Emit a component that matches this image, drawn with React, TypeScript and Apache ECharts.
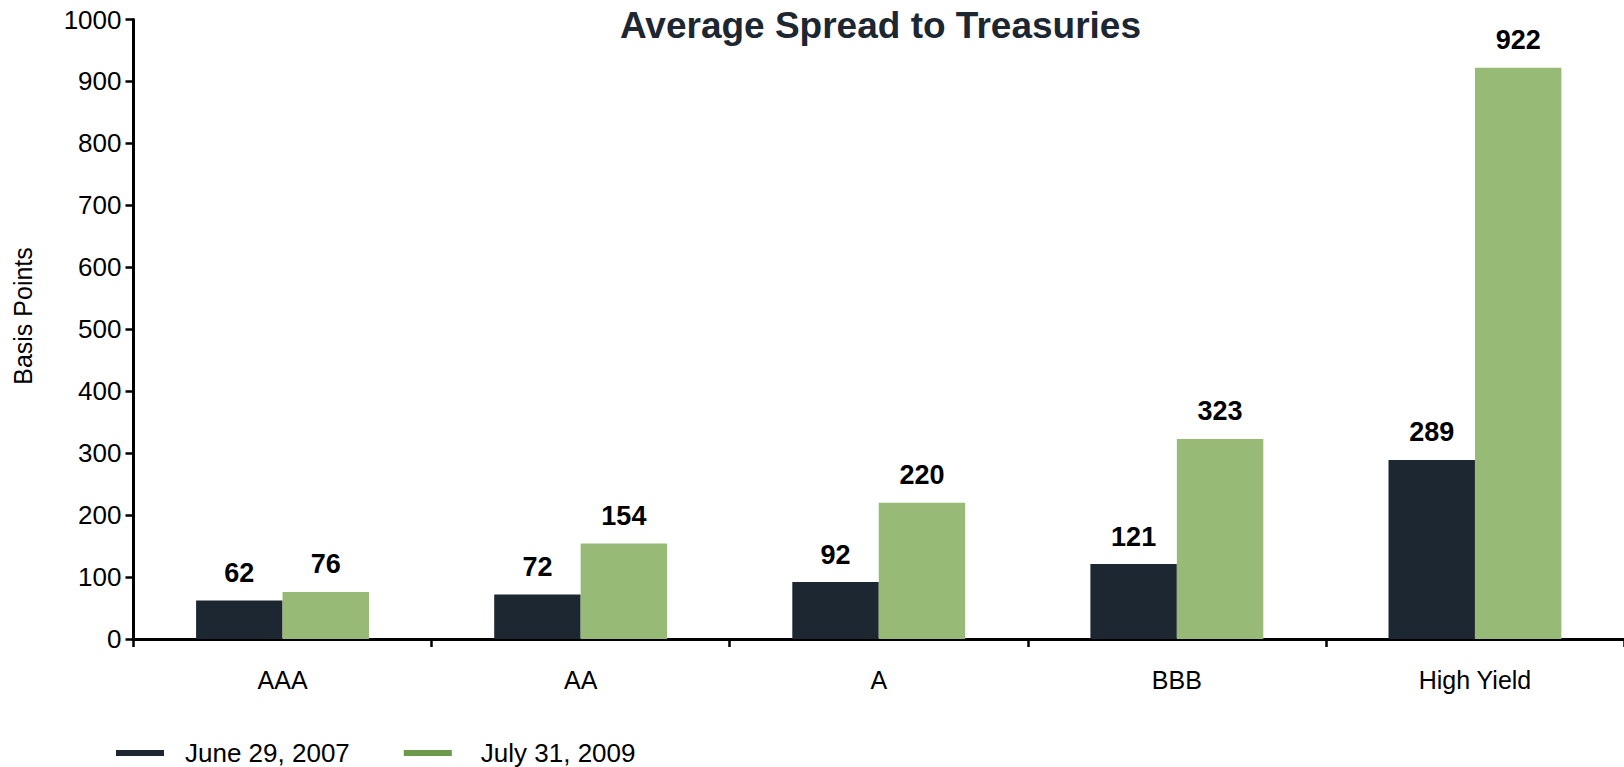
import React, { useEffect, useRef } from "react";
import * as echarts from "echarts";

const categories = ["AAA", "AA", "A", "BBB", "High Yield"];
const june2007 = [62, 72, 92, 121, 289];
const july2009 = [76, 154, 220, 323, 922];
const seriesNames = ["June 29, 2007", "July 31, 2009"];
const yTicks = { min: 0, max: 1000, interval: 100 };

const DARK = "#1c2731";
const GREEN = "#97bb77";
const GREEN_LEGEND = "#6a9a4a";
const FONT = "Liberation Sans, Arial, sans-serif";

export default function App() {
  const ref = useRef<HTMLDivElement>(null);
  useEffect(() => {
    if (!ref.current) return;
    const chart = echarts.init(ref.current, undefined, { renderer: "svg" });
    const labelCfg = {
      show: true,
      position: "top",
      distance: 14,
      color: "#000",
      fontWeight: "bold",
      fontSize: 27,
      fontFamily: FONT,
    };
    chart.setOption({
      animation: false,
      backgroundColor: "#fff",
      title: {
        text: "Average Spread to Treasuries",
        left: 620,
        top: 7,
        padding: 0,
        textStyle: { color: DARK, fontSize: 37, fontWeight: "bold", fontFamily: FONT },
      },
      grid: { left: 133.5, right: 0, top: 19.5, bottom: 128, containLabel: false },
      legend: {
        left: 116,
        top: 740,
        padding: 0,
        itemWidth: 48,
        itemHeight: 6,
        itemGap: 54,
        icon: "rect",
        textStyle: { fontSize: 26, color: "#000", fontFamily: FONT, padding: [0, 0, 0, 16] },
        data: [
          { name: seriesNames[0], itemStyle: { color: DARK } },
          {
            name: seriesNames[1],
            itemStyle: { color: GREEN_LEGEND },
            textStyle: { fontSize: 26, color: "#000", fontFamily: FONT, padding: [0, 0, 0, 24] },
          },
        ],
      },
      graphic: [
        {
          type: "text",
          x: 23,
          y: 316,
          rotation: Math.PI / 2,
          style: {
            text: "Basis Points",
            fill: "#000",
            font: `25px ${FONT}`,
            textAlign: "center",
            textVerticalAlign: "middle",
          },
        },
      ],
      xAxis: {
        type: "category",
        data: categories,
        axisLine: { lineStyle: { color: "#000", width: 3 } },
        axisTick: { show: true, length: 8, lineStyle: { color: "#000", width: 2.5 } },
        axisLabel: { color: "#000", fontSize: 25, fontFamily: FONT, margin: 28 },
      },
      yAxis: {
        type: "value",
        min: yTicks.min,
        max: yTicks.max,
        interval: yTicks.interval,
        splitLine: { show: false },
        axisLine: { show: true, lineStyle: { color: "#000", width: 3 } },
        axisTick: { show: true, length: 8, lineStyle: { color: "#000", width: 2.5 } },
        axisLabel: {
          color: "#000",
          fontSize: 26,
          fontFamily: FONT,
          margin: 12,
          formatter: (v: number) => String(v),
        },
      },
      series: [
        {
          name: seriesNames[0],
          type: "bar",
          data: june2007,
          barGap: "0%",
          barCategoryGap: "42%",
          itemStyle: { color: DARK },
          label: labelCfg,
        },
        {
          name: seriesNames[1],
          type: "bar",
          data: july2009,
          barGap: "0%",
          barCategoryGap: "42%",
          itemStyle: { color: GREEN },
          label: labelCfg,
        },
      ],
    });
    return () => chart.dispose();
  }, []);
  return (
    <div
      ref={ref}
      style={{ position: "fixed", left: 0, top: 0, width: 1624, height: 767 }}
    />
  );
}
